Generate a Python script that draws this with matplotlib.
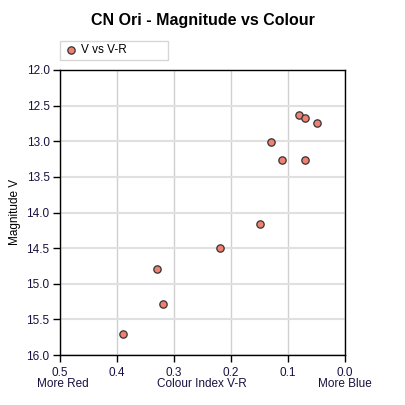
import matplotlib
matplotlib.use('Agg')
from matplotlib import pyplot as plt

plt.rcParams['font.family'] = ['Liberation Sans', 'DejaVu Sans']

# V-R colour index and V magnitude for CN Ori
colour_vr = [0.39, 0.32, 0.33, 0.22, 0.15, 0.13, 0.11, 0.07, 0.08, 0.07, 0.05]
mag_v = [15.71, 15.28, 14.79, 14.50, 14.16, 13.01, 13.27, 13.26, 12.63, 12.67, 12.74]

x_ticks = [0.5, 0.4, 0.3, 0.2, 0.1, 0.0]
y_ticks = [12.0, 12.5, 13.0, 13.5, 14.0, 14.5, 15.0, 15.5, 16.0]

fig = plt.figure(figsize=(4.05, 4.05), dpi=100)
ax = fig.add_axes([60/405, 50/405, 285/405, 285/405])

ax.scatter(colour_vr, mag_v, s=28, color='#f08070', edgecolors='#333333',
           linewidths=0.9, zorder=3, label='V vs V-R')

ax.set_xlim(0.5, 0.0)
ax.set_ylim(16.0, 12.0)
ax.set_xticks(x_ticks)
ax.set_yticks(y_ticks)
ax.set_xticklabels([f'{v:.1f}' for v in x_ticks])
ax.set_yticklabels([f'{v:.1f}' for v in y_ticks])
ax.tick_params(labelsize=8.5, colors='black', labelcolor='#1a1040', length=5,
               width=1, pad=2.5)
ax.tick_params(axis='x', pad=3.5)
ax.xaxis.grid(True, color='#d0d0d0', linewidth=1)
ax.yaxis.grid(True, color='#e0e0e0', linewidth=1.5)
ax.set_axisbelow(True)
for sp in ax.spines.values():
    sp.set_linewidth(1)

fig.text(0.5, 1 - 20/405, 'CN Ori - Magnitude vs Colour', ha='center',
         va='center', fontsize=11.5, fontweight='bold')
fig.text(202/405, 1 - 384/405, 'Colour Index V-R', ha='center', va='center',
         fontsize=8.5, color='#1a1040')
fig.text(63/405, 1 - 384/405, 'More Red', ha='center', va='center',
         fontsize=8.5, color='#1a1040')
fig.text(345/405, 1 - 384/405, 'More Blue', ha='center', va='center',
         fontsize=8.5, color='#1a1040')
fig.text(15/405, 1 - 212/405, 'Magnitude V', ha='center', va='center',
         rotation=90, fontsize=8.5)

leg = ax.legend(loc='lower left', bbox_to_anchor=(0, 1.035, 108/285, 0.072),
                mode='expand', frameon=True, fancybox=False, fontsize=8.5,
                handletextpad=0.3, borderaxespad=0, borderpad=0.3,
                handlelength=1.2)
leg.get_frame().set_edgecolor('#cccccc')
leg.get_frame().set_linewidth(1)

fig.savefig('out.png', dpi=100)
